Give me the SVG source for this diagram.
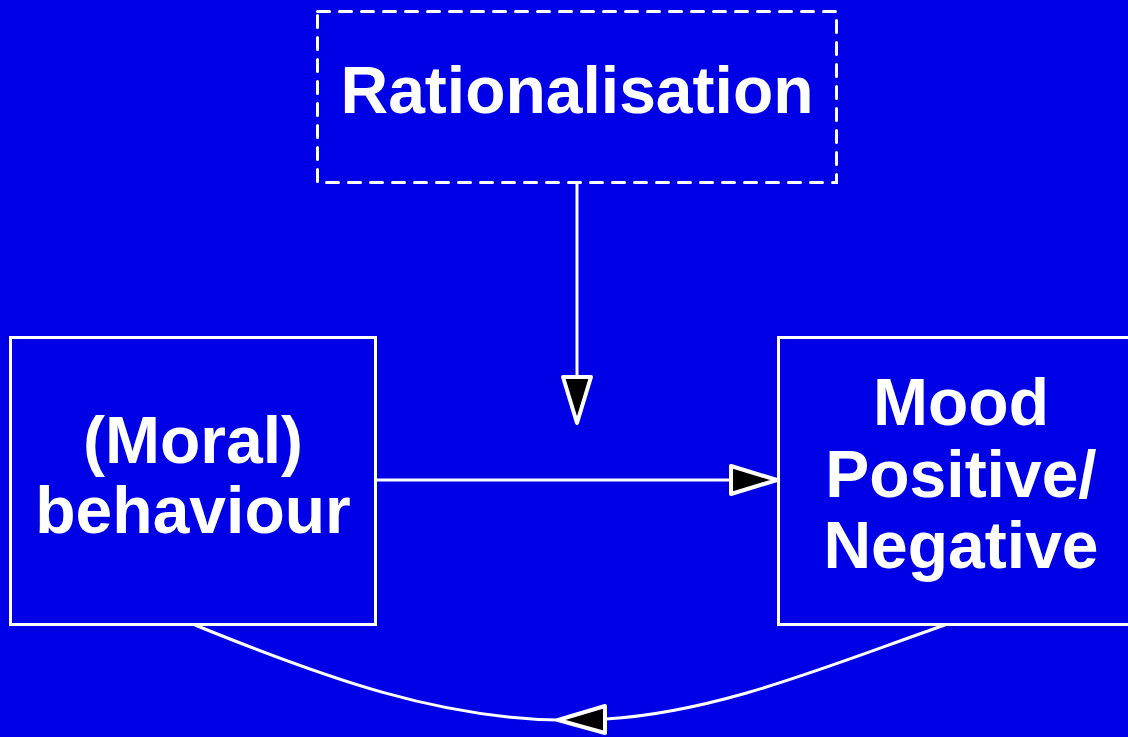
<svg xmlns="http://www.w3.org/2000/svg" width="1128" height="737" viewBox="0 0 1128 737">
<style>
.box{fill:none;stroke:#fff;stroke-width:3}
.dash{stroke-dasharray:12 10;stroke-linecap:round}
.lbl{fill:#fff;font-family:"Liberation Sans",Arial,sans-serif;font-weight:bold;font-size:66px;text-anchor:middle}
.ln{fill:none;stroke:#fff;stroke-width:3}
.ah{fill:#000;stroke:#fff;stroke-width:4;stroke-linejoin:round}
</style>
<rect width="1128" height="737" fill="#0000e6"/>
<g id="rationalisation">
<rect class="box dash" x="317.5" y="11.5" width="519" height="171"/>
<text class="lbl" x="577" y="113">Rationalisation</text>
</g>
<g id="behaviour">
<rect class="box" x="10.5" y="337.5" width="365" height="287"/>
<text class="lbl" x="193" y="463">(Moral)</text>
<text class="lbl" x="193" y="533">behaviour</text>
</g>
<g id="mood">
<rect class="box" x="778.5" y="337.5" width="366" height="287"/>
<text class="lbl" x="961" y="425">Mood</text>
<text class="lbl" x="961" y="497">Positive/</text>
<text class="lbl" x="961" y="568">Negative</text>
</g>
<g id="connectors">
<line class="ln" x1="577" y1="183" x2="577" y2="378"/>
<polygon class="ah" points="563,377 591,377 577,423"/>
<line class="ln" x1="375" y1="480" x2="732" y2="480"/>
<polygon class="ah" points="731,466 731,494 777,480"/>
<path class="ln" d="M945,625 C830,665 720,712 606,719"/>
<polygon class="ah" points="605,706 605,733 558,720"/>
<path class="ln" d="M558,720 C440,718 330,680 195,625"/>
</g>
</svg>
